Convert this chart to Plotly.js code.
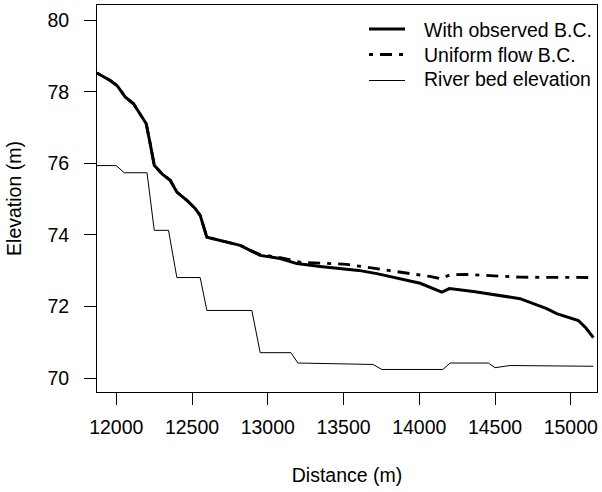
<!DOCTYPE html>
<html>
<head>
<meta charset="utf-8">
<script src="https://cdn.plot.ly/plotly-3.0.1.min.js"></script>
<style>html,body{margin:0;padding:0;background:#fff;}#chart{width:602px;height:492px;}</style>
</head>
<body>
<div id="chart"></div>
<script>
// Distance (m) and elevation (m)
const obsX = [11873, 11960, 12005, 12059, 12114, 12158, 12198, 12224, 12251, 12302, 12356, 12400, 12466, 12521, 12554, 12598, 12686, 12818, 12884, 12950, 13082, 13192, 13346, 13599, 13720, 13874, 14006, 14149, 14199, 14357, 14533, 14665, 14841, 14907, 15050, 15100, 15149];
const obsY = [78.53, 78.32, 78.18, 77.86, 77.67, 77.39, 77.11, 76.55, 75.95, 75.71, 75.53, 75.20, 74.97, 74.74, 74.55, 73.94, 73.85, 73.71, 73.57, 73.43, 73.34, 73.20, 73.12, 73.01, 72.92, 72.78, 72.65, 72.40, 72.50, 72.42, 72.31, 72.22, 71.94, 71.80, 71.61, 71.40, 71.13];

const uniX = [11873, 11960, 12005, 12059, 12114, 12158, 12198, 12224, 12251, 12302, 12356, 12400, 12466, 12521, 12554, 12598, 12686, 12818, 12884, 12950, 13082, 13214, 13520, 13720, 13874, 14070, 14140, 14200, 14300, 14533, 14665, 15149];
const uniY = [78.53, 78.32, 78.18, 77.86, 77.67, 77.39, 77.11, 76.55, 75.95, 75.71, 75.53, 75.20, 74.97, 74.74, 74.55, 73.94, 73.85, 73.71, 73.57, 73.45, 73.37, 73.24, 73.18, 73.06, 72.96, 72.84, 72.78, 72.88, 72.90, 72.85, 72.82, 72.81];

const bedX = [11873, 12000, 12053, 12203, 12251, 12345, 12400, 12554, 12598, 12895, 12950, 13153, 13199, 13522, 13694, 13753, 14155, 14204, 14456, 14500, 14599, 14863, 15149];
const bedY = [75.94, 75.94, 75.74, 75.74, 74.13, 74.13, 72.81, 72.81, 71.89, 71.89, 70.71, 70.71, 70.42, 70.40, 70.38, 70.24, 70.24, 70.42, 70.42, 70.29, 70.35, 70.34, 70.33];

const seriesNames = ["With observed B.C.", "Uniform flow B.C.", "River bed elevation"];
const xTicks = [12000, 12500, 13000, 13500, 14000, 14500, 15000];
const yTicks = [70, 72, 74, 76, 78, 80];

const FONT = "Liberation Sans, Arial, Helvetica, sans-serif";
const FS = 19.5;

const styles = [
  {color: "#000", width: 3},
  {color: "#000", width: 2.8, dash: "4px,7px,12px,7px"},
  {color: "#000", width: 1}
];

const traces = [
  {x: uniX, y: uniY, name: seriesNames[1], mode: "lines", line: styles[1], showlegend: false},
  {x: obsX, y: obsY, name: seriesNames[0], mode: "lines", line: styles[0], showlegend: false},
  {x: bedX, y: bedY, name: seriesNames[2], mode: "lines", line: styles[2], showlegend: false}
];

// legend drawn in paper coordinates (plot area: 97..597 x 5..392 px)
const L = 97, T = 5, W = 500, H = 387;
const px = v => (v - L) / W;
const py = v => (T + H - v) / H;
const lineRows = [29, 54.5, 80.5];
const textRows = [29.5, 54.5, 79.5];
const shapes = [];
const annotations = [];
for (let i = 0; i < 3; i++) {
  shapes.push({type: "line", xref: "paper", yref: "paper",
    x0: px(369), x1: px(405), y0: py(lineRows[i]), y1: py(lineRows[i]),
    line: styles[i]});
  annotations.push({xref: "paper", yref: "paper", x: px(422), y: py(textRows[i]),
    xanchor: "left", yanchor: "middle", showarrow: false, text: seriesNames[i],
    font: {family: FONT, size: FS, color: "#000"}});
}

const layout = {
  width: 602, height: 492,
  margin: {l: 97, r: 5, t: 5, b: 100},
  paper_bgcolor: "#fff", plot_bgcolor: "#fff",
  font: {family: FONT, size: FS, color: "#000"},
  showlegend: false,
  shapes: shapes,
  annotations: annotations,
  xaxis: {range: [11873, 15173], tickvals: xTicks, ticktext: xTicks.map(String),
          ticks: "outside", ticklen: 12, tickwidth: 1, tickcolor: "#000",
          showline: true, mirror: true, linecolor: "#000", linewidth: 1,
          showgrid: false, zeroline: false, ticklabelstandoff: 6,
          tickfont: {family: FONT, size: FS, color: "#000"},
          title: {text: "Distance (m)", font: {family: FONT, size: FS, color: "#000"}, standoff: 30}},
  yaxis: {range: [69.61, 80.43], tickvals: yTicks, ticktext: yTicks.map(String),
          ticks: "outside", ticklen: 12, tickwidth: 1, tickcolor: "#000",
          showline: true, mirror: true, linecolor: "#000", linewidth: 1,
          showgrid: false, zeroline: false, ticklabelstandoff: 11,
          tickfont: {family: FONT, size: FS, color: "#000"},
          title: {text: "Elevation (m)", font: {family: FONT, size: FS, color: "#000"}, standoff: 20}}
};

Plotly.newPlot("chart", traces, layout, {staticPlot: true, displayModeBar: false});
</script>
</body>
</html>
